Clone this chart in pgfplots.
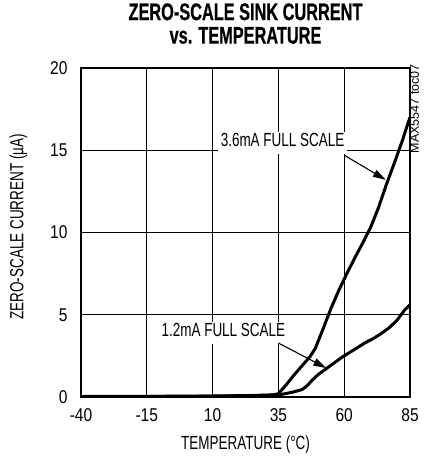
\documentclass[border=0pt]{standalone}
\usepackage{fontspec}
\setmainfont{Liberation Sans}[FakeStretch=0.71]
\newfontfamily\numfont{Liberation Sans}[FakeStretch=0.84]
\newfontfamily\titlefont{Liberation Sans Bold}[FakeStretch=0.68,FakeBold=0.6]
\newfontfamily\smallfont{Liberation Sans}[FakeStretch=1.0]
\usepackage{pgfplots}
\pgfplotsset{compat=1.18}
\usetikzlibrary{arrows.meta}

\pgfplotstableread{
T v
-40 0.03
-15 0.04
10 0.06
25 0.09
33 0.13
35 0.2
38 0.75
41 1.35
44 1.9
47 2.45
49 2.95
52 4.15
55 5.4
58 6.5
61 7.5
64 8.45
67 9.35
70 10.3
73 11.5
76 12.9
79 14.2
82 15.55
85 17.0
}\highdata

\pgfplotstableread{
T v
-40 0.02
-15 0.03
10 0.05
25 0.08
35 0.12
40 0.28
44 0.45
46 0.7
48 1.05
50 1.35
53 1.7
56 2.05
59 2.4
62 2.7
65 3.0
68 3.3
71 3.55
74 3.85
77 4.2
80 4.65
83 5.3
85 5.6
}\lowdata

\begin{document}
\begin{tikzpicture}
\path[use as bounding box] (-81bp,-60bp) rectangle (344bp,397bp);
\begin{axis}[
  name=ax,
  scale only axis,
  width=329bp, height=329bp,
  xmin=-40, xmax=85, ymin=0, ymax=20,
  xtick={-40,-15,10,35,60,85},
  xticklabels={-40,-15,10,35,60,85},
  ytick={0,5,10,15,20},
  yticklabels={0,5,10,15,20},
  grid=major,
  major grid style={black, line width=1bp},
  axis line style={black, line width=2.8bp},
  major tick length=0pt,
  tick label style={font=\numfont\fontsize{18.5bp}{19bp}\selectfont},
  xticklabel style={yshift=-8bp},
  yticklabel style={xshift=-10bp},
  xlabel={TEMPERATURE (°C)},
  xlabel style={at={(axis description cs:0.5,-0.146)}, anchor=center,
    font=\fontsize{19bp}{20bp}\selectfont},
  ylabel={ZERO-SCALE CURRENT (µA)},
  ylabel style={at={(axis description cs:-0.19,0.517)}, anchor=center,
    font=\fontsize{19bp}{20bp}\selectfont},
  title={ZERO-SCALE SINK CURRENT\\vs. TEMPERATURE},
  title style={at={(axis description cs:0.5,1)}, anchor=south, yshift=18bp, inner sep=0pt,
    align=center, font=\titlefont\fontsize{24bp}{23.5bp}\selectfont},
]
\addplot[black, line width=3bp, line join=round] table[x=T,y=v] {\highdata};
\addplot[black, line width=3bp, line join=round] table[x=T,y=v] {\lowdata};

\node[fill=white, inner xsep=3bp, inner ysep=2bp, text depth=5bp, anchor=base,
  font=\fontsize{19bp}{20bp}\selectfont] at (axis cs:36.6,15.2) {3.6mA FULL SCALE};
\node[fill=white, inner xsep=3bp, inner ysep=2bp, text depth=5bp, anchor=base,
  font=\fontsize{19bp}{20bp}\selectfont] at (axis cs:14.1,3.65) {1.2mA FULL SCALE};

\draw[black, line width=1.1bp, -{Triangle[length=13bp,width=7.5bp]}]
  (axis cs:60,14.7) -- (axis cs:75.8,13.2);
\draw[black, line width=1.1bp, -{Triangle[length=13bp,width=7.5bp]}]
  (axis cs:35,3.28) -- (axis cs:53.2,1.76);
\end{axis}
\node[rotate=90, anchor=north east, inner sep=0pt, xshift=4bp,
  font=\smallfont\fontsize{12.5bp}{13bp}\selectfont] at (ax.north east) {MAX5547 toc07};
\end{tikzpicture}
\end{document}
